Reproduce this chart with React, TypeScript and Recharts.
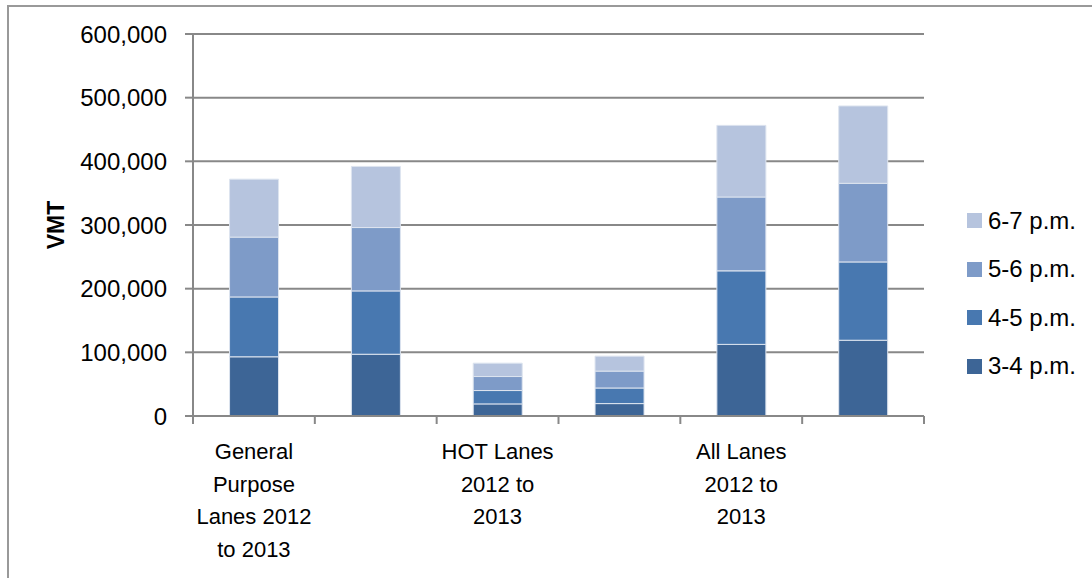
import React from "react";
import { BarChart, Bar, XAxis, YAxis, CartesianGrid, Legend } from "recharts";

// categorias (solo las impares llevan texto en el eje)
const categories = [
  "General Purpose Lanes 2012 to 2013",
  "",
  "HOT Lanes 2012 to 2013",
  "",
  "All Lanes 2012 to 2013",
  "",
];
const categoryLines = [
  ["General", "Purpose", "Lanes 2012", "to 2013"],
  [],
  ["HOT Lanes", "2012 to", "2013"],
  [],
  ["All Lanes", "2012 to", "2013"],
  [],
];

const seriesNames = ["3-4 p.m.", "4-5 p.m.", "5-6 p.m.", "6-7 p.m."];
const pm3to4 = [93000, 97000, 19000, 19500, 112500, 119000];
const pm4to5 = [94000, 99500, 21000, 24500, 115500, 123000];
const pm5to6 = [94000, 99500, 22000, 26500, 116000, 123500];
const pm6to7 = [91000, 96000, 21000, 23500, 112500, 121500];

const yTicks = [0, 100000, 200000, 300000, 400000, 500000, 600000];

const colors = ["#3d6596", "#4878b0", "#7e9bc8", "#b6c4de"];
const FONT = "'Liberation Sans', Arial, sans-serif";
const AXIS = "#888888";

const data = categories.map((name, i) => ({
  name,
  s0: pm3to4[i],
  s1: pm4to5[i],
  s2: pm5to6[i],
  s3: pm6to7[i],
}));

const W = 1084;
const H = 570;
const margin = { top: 26, right: 168, left: 0, bottom: 0 };
const yAxisW = 185;
const plotW = W - margin.right - yAxisW;

const CategoryTick = (props: any) => {
  const { x, y, index } = props;
  const band = plotW / categories.length;
  const lines = categoryLines[index] || [];
  const last = index === categories.length - 1;
  return (
    <g>
      <line x1={x - band / 2} x2={x - band / 2} y1={y} y2={y + 8} stroke={AXIS} strokeWidth={2} />
      {last && <line x1={x + band / 2} x2={x + band / 2} y1={y} y2={y + 8} stroke={AXIS} strokeWidth={2} />}
      <text x={x} y={y + 43} textAnchor="middle" fontSize={22} fill="#000" fontFamily={FONT}>
        {lines.map((l, i) => (
          <tspan key={i} x={x} dy={i === 0 ? 0 : 32.5}>
            {l}
          </tspan>
        ))}
      </text>
    </g>
  );
};

const LegendContent = () => (
  <div style={{ fontFamily: FONT, fontSize: 24, color: "#000" }}>
    {seriesNames
      .map((n, i) => ({ n, c: colors[i] }))
      .reverse()
      .map((it) => (
        <div key={it.n} style={{ display: "flex", alignItems: "center", height: 15, marginBottom: 33.5 }}>
          <span style={{ width: 15, height: 15, background: it.c, display: "inline-block", marginRight: 6, flexShrink: 0 }} />
          <span style={{ lineHeight: "24px", whiteSpace: "nowrap" }}>{it.n}</span>
        </div>
      ))}
  </div>
);

export default function App() {
  return (
    <div style={{ position: "absolute", top: 5, left: 7, width: 1085, height: 573, overflow: "hidden" }}>
      <div
        style={{
          position: "absolute",
          left: 0,
          top: 0,
          width: 1200,
          height: 700,
          border: "2px solid #999",
          boxSizing: "border-box",
        }}
      />
      <div style={{ position: "absolute", left: 1, top: 3 }}>
        <BarChart width={W} height={H} data={data} margin={margin} barCategoryGap="30%" style={{ fontFamily: FONT }}>
          <CartesianGrid vertical={false} stroke={AXIS} strokeWidth={2} />
          <XAxis
            dataKey="name"
            height={H - margin.top - 382}
            interval={0}
            tickSize={0}
            tickMargin={0}
            tickLine={false}
            axisLine={{ stroke: AXIS, strokeWidth: 2 }}
            tick={<CategoryTick />}
          />
          <YAxis
            width={yAxisW}
            domain={[0, 600000]}
            ticks={yTicks}
            interval={0}
            tickSize={8}
            tickMargin={18}
            tickLine={{ stroke: AXIS, strokeWidth: 2 }}
            axisLine={{ stroke: AXIS, strokeWidth: 2 }}
            tick={{ fontSize: 24, fill: "#000", fontFamily: FONT }}
            tickFormatter={(v: number) => v.toLocaleString("en-US")}
            label={{
              value: "VMT",
              angle: -90,
              position: "insideLeft",
              offset: 48,
              style: { textAnchor: "middle", fontWeight: "bold", fontSize: 23, fill: "#000", fontFamily: FONT },
            }}
          />
          <Legend
            layout="horizontal"
            verticalAlign="middle"
            align="center"
            content={<LegendContent />}
            wrapperStyle={{ left: 959, top: 205, width: 125 }}
          />
          {["s0", "s1", "s2", "s3"].map((k, i) => (
            <Bar
              key={k}
              dataKey={k}
              name={seriesNames[i]}
              stackId="vmt"
              fill={colors[i]}
              stroke="#dde4ef"
              strokeWidth={1}
              isAnimationActive={false}
            />
          ))}
        </BarChart>
      </div>
    </div>
  );
}
